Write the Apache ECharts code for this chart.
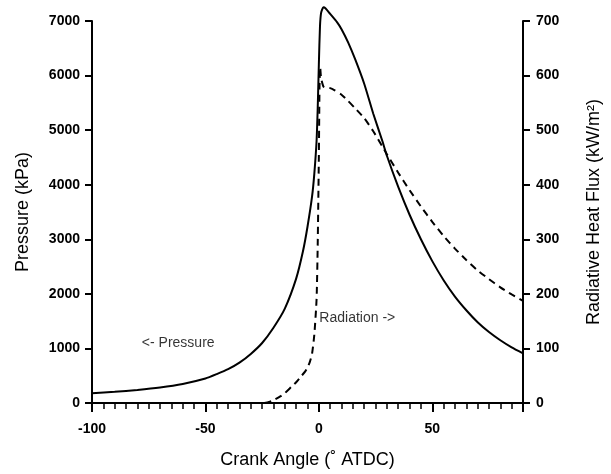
<!DOCTYPE html>
<html>
<head>
<meta charset="utf-8">
<script src="https://cdn.jsdelivr.net/npm/echarts@6/dist/echarts.min.js"></script>
<style>html,body{margin:0;padding:0;background:#fff;}#c{width:611px;height:474px;}</style>
</head>
<body>
<div id="c"></div>
<script>
// Crank angle (deg ATDC) and pressure (kPa) - solid line
var pressureAngle = [-100,-90,-80,-70,-60,-50,-45,-40,-35,-30,-25,-20,-15,-10,-7,-5,-3,-2,-1,-0.5,0,0.5,1,2,3,5,8,10,13,16,20,24,28,30,35,40,45,50,55,60,65,70,75,80,85,90];
var pressureValue = [180,205,240,285,350,450,530,620,740,900,1100,1380,1730,2280,2780,3230,3780,4200,4800,5400,6200,6900,7150,7250,7230,7130,6980,6850,6600,6300,5850,5300,4800,4530,3960,3450,3000,2600,2250,1950,1700,1480,1300,1150,1020,910];
// Crank angle and radiative heat flux (kW/m2) - dashed line
var fluxAngle = [-24,-22,-20,-17,-15,-12,-10,-8,-6,-5,-4,-3,-2,-1,-0.5,0,0.3,0.6,1,2,3,5,7,10,13,16,20,24,28,30,35,40,45,50,55,60,65,70,75,80,85,90];
var fluxValue = [0,2,5,12,18,30,38,48,58,65,75,90,125,190,290,450,580,615,595,580,578,577,573,565,553,540,522,498,470,456,422,390,360,332,306,283,262,243,227,212,199,187];
// tick labels
var xTicks = [-100,-50,0,50];
var pressureTicks = [0,1000,2000,3000,4000,5000,6000,7000];
var fluxTicks = [0,100,200,300,400,500,600,700];
// text annotations: [angle, pressure, text, align]
var notes = [[-62,1100,'<- Pressure','center'],[0,1560,'Radiation ->','left']];

function pairs(a,b){return a.map(function(x,i){return [x,b[i]];});}
var chart = echarts.init(document.getElementById('c'), null, {renderer:'canvas'});
var font = 'Liberation Sans, Arial, Helvetica, sans-serif';
var axisLineStyle = {color:'#000', width:2};
chart.setOption({
  animation:false,
  backgroundColor:'#fff',
  grid:{left:92, right:88, top:21, bottom:71, containLabel:false},
  xAxis:{
    type:'value', min:-100, max:90, interval:50,
    name:'Crank Angle (\u02DA ATDC)', nameLocation:'middle', nameGap:48,
    nameTextStyle:{fontFamily:font, fontSize:18, color:'#000'},
    axisLine:{show:true, onZero:false, lineStyle:axisLineStyle},
    axisTick:{show:true, inside:false, length:9, lineStyle:{color:'#000', width:2}},
    minorTick:{show:true, splitNumber:10, length:6, lineStyle:{color:'#000', width:1.5}},
    axisLabel:{fontFamily:font, fontSize:14, fontWeight:'bold', color:'#000', margin:19,
      formatter:function(v){return xTicks.indexOf(v)>=0?String(v):'';}},
    splitLine:{show:false}
  },
  yAxis:[{
    type:'value', min:0, max:7000, interval:1000, position:'left',
    name:'Pressure (kPa)', nameLocation:'middle', nameGap:60, nameRotate:90,
    nameTextStyle:{fontFamily:font, fontSize:18, color:'#000'},
    axisLine:{show:true, onZero:false, lineStyle:axisLineStyle},
    axisTick:{show:true, length:7, lineStyle:{color:'#000', width:2}},
    axisLabel:{fontFamily:font, fontSize:14, fontWeight:'bold', color:'#000', margin:12,
      formatter:function(v){return pressureTicks.indexOf(v)>=0?String(v):'';}},
    splitLine:{show:false}
  },{
    type:'value', min:0, max:700, interval:100, position:'right',
    name:'Radiative Heat Flux (kW/m\u00B2)', nameLocation:'middle', nameGap:62, nameRotate:90,
    nameTextStyle:{fontFamily:font, fontSize:18, color:'#000'},
    axisLine:{show:true, onZero:false, lineStyle:axisLineStyle},
    axisTick:{show:true, length:7, lineStyle:{color:'#000', width:2}},
    axisLabel:{fontFamily:font, fontSize:14, fontWeight:'bold', color:'#000', margin:13,
      formatter:function(v){return fluxTicks.indexOf(v)>=0?String(v):'';}},
    splitLine:{show:false}
  }],
  series:[{
    type:'line', yAxisIndex:0, data:pairs(pressureAngle,pressureValue),
    showSymbol:false, clip:false, smooth:0.2,
    lineStyle:{color:'#000', width:2}
  },{
    type:'line', yAxisIndex:1, data:pairs(fluxAngle,fluxValue),
    showSymbol:false, clip:false, smooth:0.2,
    lineStyle:{color:'#000', width:2, type:[7,5]}
  },{
    type:'scatter', yAxisIndex:0, symbolSize:1, itemStyle:{color:'rgba(0,0,0,0)'},
    silent:true, clip:false,
    data:notes.map(function(n){return {value:[n[0],n[1]], name:n[2],
      label:{position:n[3]==='left'?'right':'inside', distance:0, align:n[3]}};}),
    label:{show:true, color:'#000', fontFamily:font, fontSize:14,
      formatter:function(p){return p.name;}}
  }]
});
</script>
</body>
</html>
